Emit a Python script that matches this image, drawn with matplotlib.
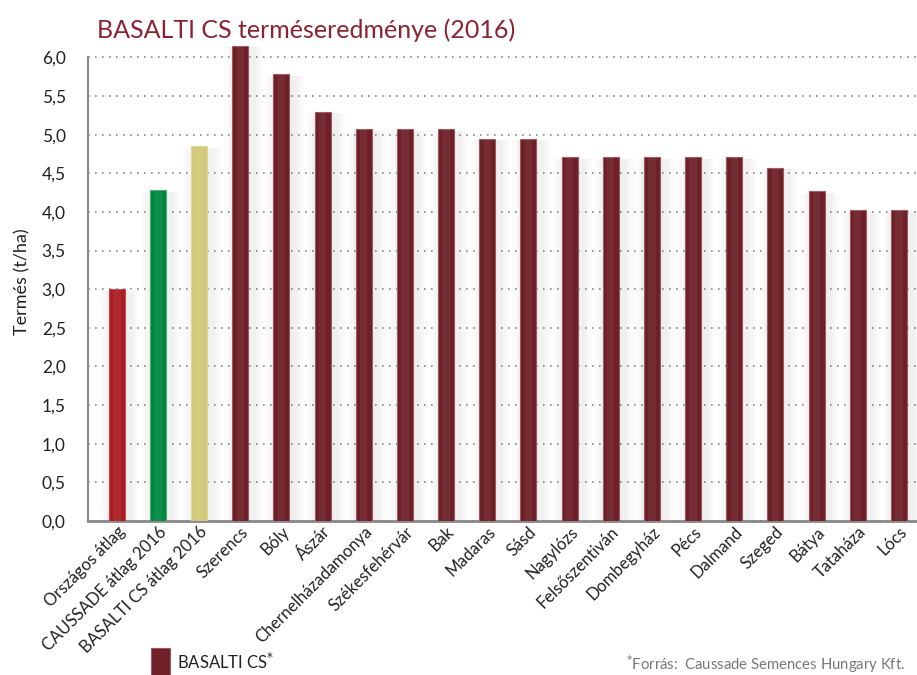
import matplotlib
matplotlib.use("Agg")
import matplotlib.pyplot as plt
from matplotlib.patches import Rectangle

categories = ["Országos átlag", "CAUSSADE átlag 2016", "BASALTI CS átlag 2016",
              "Szerencs", "Bóly", "Ászár", "Chernelházadamonya", "Székesfehérvár",
              "Bak", "Madaras", "Sásd", "Nagylózs", "Felsőszentiván", "Dombegyház",
              "Pécs", "Dalmand", "Szeged", "Bátya", "Tataháza", "Lócs"]
values = [3.0, 4.28, 4.85, 6.15, 5.78, 5.3, 5.07, 5.07, 5.07, 4.95, 4.95,
          4.71, 4.71, 4.71, 4.71, 4.71, 4.57, 4.27, 4.02, 4.02]
colors = ["#A81C22", "#00873F", "#D3C878"] + ["#6E1F27"] * 17
edge_colors = ["#C8484C", "#4FA872", "#E0D79A"] + ["#9A5A60"] * 17
yticks = [0.0, 0.5, 1.0, 1.5, 2.0, 2.5, 3.0, 3.5, 4.0, 4.5, 5.0, 5.5, 6.0]
ytick_labels = [f"{v:.1f}".replace(".", ",") for v in yticks]

plt.rcParams['font.family'] = ['Lato', 'DejaVu Sans']

fig = plt.figure(figsize=(9.17, 6.75), dpi=100)
ax = fig.add_axes([88/917, 154/675, 829/917, 479/675])

x = list(range(len(categories)))
# soft shadows
for i, v in enumerate(values):
    for w, a in [(0.95, 0.03), (0.78, 0.035), (0.62, 0.045)]:
        ax.bar(i + 0.08, v - 0.02, width=w, color="#808080", alpha=a, zorder=1, linewidth=0)

ax.bar(x, values, width=0.39, color=colors, edgecolor=edge_colors, linewidth=0.8, zorder=3)
# subtle centre highlight
for i, v in enumerate(values):
    ax.bar(i, v, width=0.18, color="white", alpha=0.06, zorder=4, linewidth=0)

ax.set_xlim(-0.7, 19.44)
ax.set_ylim(0, 6.2)
ax.set_yticks(yticks)
ax.set_yticklabels(ytick_labels, fontsize=12.5, color="#222222")
ax.yaxis.grid(True, linestyle=(0, (1, 3.2)), color="#888888", linewidth=1.2, zorder=0)
ax.set_axisbelow(True)
ax.tick_params(axis="y", length=0, pad=16)
ax.tick_params(axis="x", length=0, pad=2)
ax.set_xticks(x)
ax.set_xticklabels(categories, rotation=45, ha="right", rotation_mode="anchor",
                   fontsize=12, color="#222222")
for s in ["top", "right"]:
    ax.spines[s].set_visible(False)
ax.spines["left"].set_color("#888888")
ax.spines["left"].set_linewidth(1.5)
ax.spines["left"].set_bounds(0, 6.0)
ax.spines["bottom"].set_color("#888888")
ax.spines["bottom"].set_linewidth(2)

ax.set_ylabel("Termés (t/ha)", fontsize=13, color="#222222", labelpad=8)

fig.text(97/917, 1 - 30/675, "BASALTI CS terméseredménye (2016)", fontsize=18,
         color="#8B2332", va="center", ha="left")

# legend
fig.patches.append(Rectangle((151/917, 0), 19/917, 27/675, transform=fig.transFigure,
                              facecolor="#6E1F27", edgecolor="#9A5A60", linewidth=0.8))
fig.text(177/917, 1 - 662/675, "BASALTI CS$^{*}$", fontsize=12, color="#222222",
         va="center", ha="left")
fig.text(905/917, 1 - 664/675, "$^{*}$Forrás:  Caussade Semences Hungary Kft.",
         fontsize=10.7, color="#777777", va="center", ha="right")

fig.savefig("out.png", dpi=100)
